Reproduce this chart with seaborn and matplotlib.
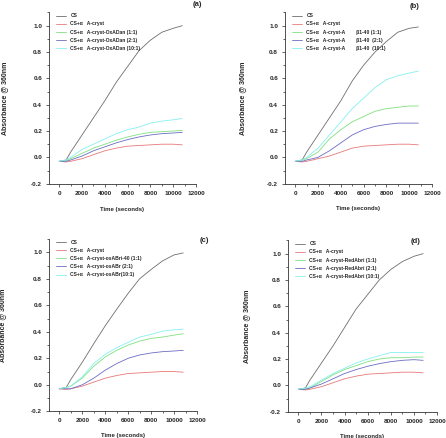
import matplotlib
matplotlib.use("Agg")
import matplotlib.pyplot as plt
from matplotlib.ticker import MultipleLocator
import seaborn as sns
import pandas as pd

sns.set_style("ticks")
plt.rcParams['font.family'] = ['Liberation Sans', 'DejaVu Sans']
plt.rcParams['font.weight'] = 'bold'

time_s = [0, 600, 1000, 2000, 3000, 4000, 5000, 6000, 7000, 8000, 9000, 10000, 10800]

# Panel (a)
a_cs    = [-0.03, -0.02, 0.04, 0.17, 0.30, 0.43, 0.57, 0.69, 0.81, 0.89, 0.95, 0.98, 1.00]
a_red   = [-0.03, -0.035, -0.03, -0.01, 0.02, 0.05, 0.07, 0.085, 0.09, 0.095, 0.10, 0.10, 0.095]
a_green = [-0.03, -0.025, -0.01, 0.03, 0.07, 0.10, 0.13, 0.155, 0.175, 0.19, 0.195, 0.20, 0.205]
a_blue  = [-0.03, -0.03, -0.02, 0.01, 0.05, 0.08, 0.11, 0.135, 0.155, 0.17, 0.18, 0.185, 0.19]
a_cyan  = [-0.03, -0.02, 0.00, 0.06, 0.10, 0.14, 0.18, 0.21, 0.23, 0.26, 0.275, 0.285, 0.295]

# Panel (b)
b_cs    = [-0.03, -0.02, 0.04, 0.17, 0.30, 0.43, 0.58, 0.70, 0.80, 0.88, 0.95, 0.98, 0.99]
b_red   = [-0.03, -0.035, -0.03, -0.01, 0.01, 0.04, 0.07, 0.085, 0.09, 0.095, 0.10, 0.10, 0.095]
b_green = [-0.03, -0.02, -0.01, 0.04, 0.14, 0.21, 0.27, 0.31, 0.35, 0.37, 0.38, 0.39, 0.39]
b_blue  = [-0.03, -0.03, -0.02, 0.00, 0.05, 0.11, 0.17, 0.21, 0.235, 0.25, 0.26, 0.26, 0.26]
b_cyan  = [-0.03, -0.02, 0.00, 0.07, 0.17, 0.27, 0.37, 0.45, 0.53, 0.59, 0.62, 0.64, 0.655]

# Panel (c)
c_cs    = [-0.03, -0.02, 0.04, 0.17, 0.31, 0.445, 0.57, 0.69, 0.80, 0.87, 0.935, 0.98, 0.995]
c_red   = [-0.03, -0.035, -0.03, -0.01, 0.02, 0.05, 0.07, 0.085, 0.09, 0.095, 0.10, 0.10, 0.095]
c_green = [-0.03, -0.02, -0.01, 0.05, 0.14, 0.21, 0.26, 0.30, 0.33, 0.35, 0.36, 0.375, 0.385]
c_blue  = [-0.03, -0.03, -0.03, 0.00, 0.05, 0.11, 0.16, 0.20, 0.225, 0.24, 0.25, 0.255, 0.26]
c_cyan  = [-0.03, -0.02, -0.01, 0.06, 0.16, 0.23, 0.28, 0.32, 0.36, 0.38, 0.405, 0.415, 0.42]

# Panel (d)
d_cs    = [-0.03, -0.02, 0.04, 0.17, 0.30, 0.44, 0.58, 0.69, 0.80, 0.88, 0.94, 0.98, 1.00]
d_red   = [-0.03, -0.035, -0.03, -0.01, 0.02, 0.05, 0.07, 0.085, 0.09, 0.095, 0.10, 0.10, 0.095]
d_green = [-0.03, -0.025, -0.02, 0.03, 0.08, 0.12, 0.15, 0.18, 0.20, 0.21, 0.21, 0.215, 0.215]
d_blue  = [-0.03, -0.03, -0.02, 0.01, 0.05, 0.09, 0.12, 0.145, 0.165, 0.18, 0.19, 0.195, 0.19]
d_cyan  = [-0.03, -0.02, -0.01, 0.04, 0.09, 0.13, 0.17, 0.20, 0.225, 0.25, 0.25, 0.25, 0.25]

labels_a = ["CS", "CS+α   A-cryst", "CS+α   A-cryst-OxADan (1:1)",
            "CS+α   A-cryst-OxADan (2:1)", "CS+α   A-cryst-OxADan (10:1)"]
labels_b = ["CS", "CS+α   A-cryst", "CS+α   A-cryst-A        β1-40 (1:1)",
            "CS+α   A-cryst-A        β1-40  (2:1)", "CS+α   A-cryst-A        β1-40  (10:1)"]
labels_c = ["CS", "CS+α   A-cryst", "CS+α   A-cryst-osABri-40 (1:1)",
            "CS+α   A-cryst-osABr (2:1)", "CS+α   A-cryst-osABr(10:1)"]
labels_d = ["CS", "CS+α   A-cryst", "CS+α   A-cryst-RedAbri (1:1)",
            "CS+α   A-cryst-RedAbri (2:1)", "CS+α   A-cryst-RedAbri (10:1)"]
panel_tags = ["(a)", "(b)", "(c)", "(d)"]

colors = ["#6e6e6e", "#e87878", "#7fe07f", "#6c6cc4", "#86f0f0"]

W, H = 446, 438
fig = plt.figure(figsize=(W / 100, H / 100), dpi=100)

# axes rectangles in pixels: left, top, right, bottom
rects = [(49, 12.5, 196, 183.7), (285, 12.5, 432, 183.7),
         (49, 239.0, 197, 411.3), (288, 240.5, 437, 411.7)]
ylab_x = [-0.28, -0.267, -0.29, -0.257]
xlab_y = [-0.136, -0.13, -0.125, -0.13]
tag_pos = [(197, 5), (415, 6), (204, 240), (416, 241)]

panels = [
    (labels_a, [a_cs, a_red, a_green, a_blue, a_cyan]),
    (labels_b, [b_cs, b_red, b_green, b_blue, b_cyan]),
    (labels_c, [c_cs, c_red, c_green, c_blue, c_cyan]),
    (labels_d, [d_cs, d_red, d_green, d_blue, d_cyan]),
]

for i, (labels, series) in enumerate(panels):
    l, t, r, b = rects[i]
    ax = fig.add_axes([l / W, (H - b) / H, (r - l) / W, (b - t) / H])
    rows = []
    for lab, vals in zip(labels, series):
        for x, y in zip(time_s, vals):
            rows.append({"Time": x, "Abs": y, "Sample": lab})
    df = pd.DataFrame(rows)
    sns.lineplot(data=df, x="Time", y="Abs", hue="Sample", hue_order=labels,
                 palette=colors, linewidth=0.6, ax=ax, legend=True)
    ax.set_xlim(-900, 12000)
    ax.set_ylim(-0.2, 1.1)
    ax.xaxis.set_minor_locator(MultipleLocator(1000))
    ax.yaxis.set_minor_locator(MultipleLocator(0.1))
    ax.set_xticks([0, 2000, 4000, 6000, 8000, 10000, 12000])
    ax.set_yticks([-0.2, 0.0, 0.2, 0.4, 0.6, 0.8, 1.0])
    ax.set_yticklabels(["-0.2", "0.0", "0.2", "0.4", "0.6", "0.8", "1.0"])
    ax.tick_params(axis="both", which="major", labelsize=4.6, length=2.5,
                   width=0.5, pad=2.5)
    ax.tick_params(axis="both", which="minor", length=1.5, width=0.5)
    for lbl in ax.get_xticklabels() + ax.get_yticklabels():
        lbl.set_fontweight("bold")
    sns.despine(ax=ax)
    for s in ["left", "bottom"]:
        ax.spines[s].set_linewidth(0.6)
        ax.spines[s].set_color("#333333")
    ax.set_xlabel("Time (seconds)", fontsize=4.3, fontweight="bold")
    ax.set_ylabel("Absorbance @ 360nm", fontsize=5.0, fontweight="bold")
    ax.xaxis.set_label_coords(0.5, xlab_y[i])
    ax.yaxis.set_label_coords(ylab_x[i], 0.5)
    leg = ax.legend(loc="upper left", bbox_to_anchor=(0.05, 0.995), frameon=False,
                    fontsize=3.6, handlelength=2.0, handletextpad=0.8,
                    labelspacing=0.62, borderaxespad=0, borderpad=0)
    for ln in leg.get_lines():
        ln.set_linewidth(0.6)
    for tx in leg.get_texts():
        tx.set_fontweight("bold")
    fig.text(tag_pos[i][0] / W, 1 - tag_pos[i][1] / H, panel_tags[i],
             fontsize=5.5, ha="center", va="center")

fig.savefig("out.png", dpi=100)
